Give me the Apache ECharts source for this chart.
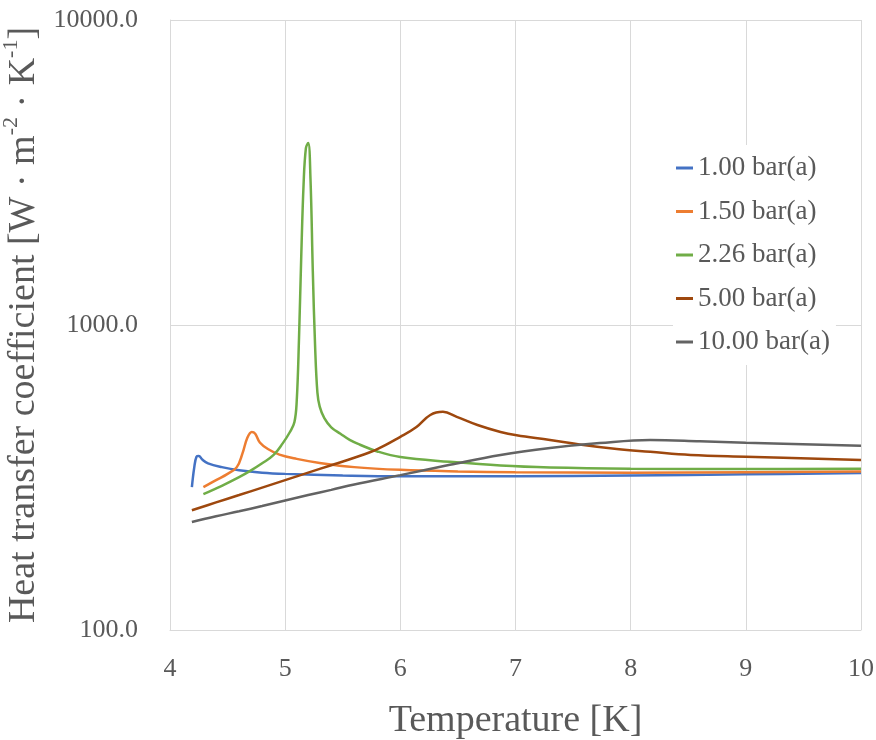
<!DOCTYPE html>
<html>
<head>
<meta charset="utf-8">
<script src="https://cdn.jsdelivr.net/npm/echarts@6/dist/echarts.min.js"></script>
<style>html,body{margin:0;padding:0;background:#fff;}#c{width:876px;height:740px;}</style>
</head>
<body>
<div id="c"></div>
<script>
// Data (Temperature [K], heat transfer coefficient [W m-2 K-1])
const seriesNames = ['1.00 bar(a)', '1.50 bar(a)', '2.26 bar(a)', '5.00 bar(a)', '10.00 bar(a)'];

const t100 = [4.19, 4.21, 4.23, 4.25, 4.28, 4.33, 4.45, 4.6, 4.8, 5.0, 5.5, 6.0, 7.0, 8.0, 9.0, 10.0];
const h100 = [294, 340, 370, 372, 362, 352, 342, 334, 328, 325, 321, 319, 319, 321, 324, 327];

const t150 = [4.29, 4.4, 4.5, 4.58, 4.63, 4.67, 4.71, 4.74, 4.78, 4.85, 4.95, 5.1, 5.3, 5.6, 6.0, 6.5, 7.0, 8.0, 9.0, 10.0];
const h150 = [294, 310, 325, 342, 380, 425, 446, 440, 412, 392, 376, 364, 353, 342, 335, 331, 329, 328, 329, 331];

const t226 = [4.29, 4.45, 4.6, 4.7, 4.8, 4.9, 4.98, 5.04, 5.08, 5.1, 5.12, 5.14, 5.16, 5.18, 5.2, 5.22, 5.24, 5.26, 5.28, 5.3, 5.34, 5.4, 5.48, 5.56, 5.65, 5.8, 6.0, 6.43, 6.87, 7.3, 8.0, 9.0, 10.0];
const h226 = [279, 297, 317, 333, 352, 375, 410, 445, 480, 560, 900, 1700, 2900, 3800, 3950, 3000, 1500, 850, 600, 540, 495, 462, 440, 420, 405, 385, 369, 356, 346, 341, 338, 337, 338];

const t500 = [4.19, 4.4, 4.6, 4.8, 5.0, 5.2, 5.4, 5.6, 5.8, 6.0, 6.14, 6.26, 6.37, 6.49, 6.67, 6.87, 7.01, 7.3, 7.59, 7.88, 8.17, 8.52, 9.0, 10.0];
const h500 = [247, 262, 277, 293, 310, 328, 347, 367, 392, 430, 463, 507, 519, 500, 470, 446, 435, 420, 404, 392, 384, 375, 370, 361];

const t1000 = [4.19, 4.4, 4.6, 4.8, 5.0, 5.2, 5.4, 5.6, 6.0, 6.43, 6.87, 7.3, 7.73, 8.17, 8.6, 9.0, 10.0];
const h1000 = [226, 236, 245, 255, 266, 277, 288, 300, 322, 348, 375, 395, 410, 420, 416, 411, 402];

const xTicks = [4, 5, 6, 7, 8, 9, 10];
const colors = ['#4472C4', '#ED7D31', '#70AD47', '#9E480E', '#636363'];

const zip = (t, h) => t.map((v, i) => [v, h[i]]);
const dataSets = [zip(t100, h100), zip(t150, h150), zip(t226, h226), zip(t500, h500), zip(t1000, h1000)];

const FONT = '"Liberation Serif", "DejaVu Serif", serif';
const TXT = '#595959';
const GRID = '#d9d9d9';

const chart = echarts.init(document.getElementById('c'));
chart.setOption({
  animation: false,
  backgroundColor: '#fff',
  textStyle: { fontFamily: FONT },
  grid: { left: 170, right: 15, top: 20, bottom: 110, containLabel: false, outerBoundsMode: 'none' },
  legend: {
    orient: 'vertical',
    left: 673,
    top: 145,
    padding: [8, 6, 8, 3],
    backgroundColor: '#fff',
    itemWidth: 17,
    itemHeight: 3,
    itemGap: 13.5,
    icon: 'rect',
    data: seriesNames,
    textStyle: { fontFamily: FONT, fontSize: 27, color: TXT, lineHeight: 30 }
  },
  xAxis: {
    type: 'value',
    min: xTicks[0],
    max: xTicks[xTicks.length - 1],
    interval: 1,
    name: 'Temperature [K]',
    nameLocation: 'middle',
    nameGap: 72,
    nameTextStyle: { fontFamily: FONT, fontSize: 38, color: TXT },
    axisLine: { show: true, lineStyle: { color: GRID, width: 1 } },
    axisTick: { show: false },
    axisLabel: { margin: 26, fontFamily: FONT, fontSize: 26, color: TXT },
    splitLine: { show: true, lineStyle: { color: GRID, width: 1 } }
  },
  yAxis: {
    type: 'log',
    logBase: 10,
    min: 100,
    max: 10000,
    name: '{n|Heat transfer coefficient [W · m}{s|-2}{n| · K}{s|-1}{n|]}',
    nameLocation: 'middle',
    nameGap: 122,
    nameTextStyle: {
      fontFamily: FONT, fontSize: 38, color: TXT,
      rich: {
        n: { fontFamily: FONT, fontSize: 38, color: TXT, lineHeight: 44, verticalAlign: 'bottom' },
        s: { fontFamily: FONT, fontSize: 22, color: TXT, lineHeight: 44, verticalAlign: 'top', padding: [2, 0, 0, 0] }
      }
    },
    axisLine: { show: true, lineStyle: { color: GRID, width: 1 } },
    axisTick: { show: false },
    axisLabel: { margin: 32, fontFamily: FONT, fontSize: 26, color: TXT, formatter: v => Number(v).toFixed(1) },
    splitLine: { show: true, lineStyle: { color: GRID, width: 1 } },
    minorSplitLine: { show: false }
  },
  series: seriesNames.map((name, i) => ({
    name: name,
    type: 'line',
    data: dataSets[i],
    showSymbol: false,
    symbol: 'none',
    smooth: 0.4,
    color: colors[i],
    lineStyle: { color: colors[i], width: 2.5 }
  }))
});
</script>
</body>
</html>
